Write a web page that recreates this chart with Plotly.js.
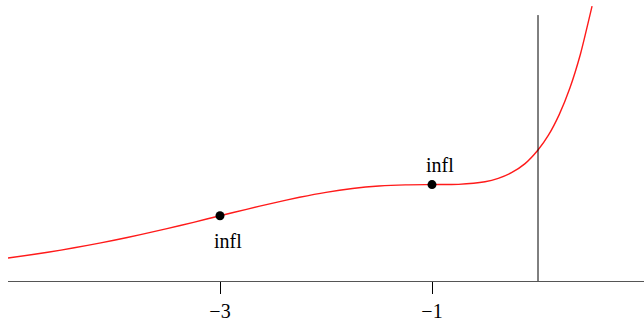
<!DOCTYPE html>
<html>
<head>
<meta charset="utf-8">
<script src="https://cdn.plot.ly/plotly-3.0.1.min.js"></script>
<style>
html,body{margin:0;padding:0;background:#fff;}
</style>
</head>
<body>
<div id="chart"></div>
<script>
// Curve values
const curveX = [-5, -4.75, -4.5, -4.25, -4, -3.75, -3.5, -3.25, -3, -2.75, -2.5, -2.25, -2, -1.75, -1.5, -1.25, -1, -0.75, -0.5, -0.375, -0.25, -0.125, 0, 0.1, 0.2, 0.3, 0.4, 0.51];
const curveY = [0.175, 0.204, 0.236, 0.272, 0.311, 0.354, 0.400, 0.448, 0.498, 0.547, 0.595, 0.639, 0.677, 0.706, 0.725, 0.734, 0.736, 0.738, 0.758, 0.784, 0.827, 0.894, 1.0, 1.115, 1.270, 1.471, 1.731, 2.098];
// Marked inflection points
const inflX = [-3, -1];
const inflY = [0.498, 0.736];
const inflLabels = ['infl', 'infl'];
const inflShift = [-25, 20];
// Axis ticks
const tickVals = [-3, -1];
const tickText = ['\u22123', '\u22121'];
// Vertical line (y-axis) top
const vLineTop = 2.03;

const traces = [
  {x: curveX, y: curveY, type: 'scatter', mode: 'lines',
   line: {color: '#ff1a1a', width: 1.4, shape: 'spline', smoothing: 0.6},
   hoverinfo: 'skip', showlegend: false},
  {x: inflX, y: inflY, type: 'scatter', mode: 'markers',
   marker: {color: '#000', size: 9},
   hoverinfo: 'skip', showlegend: false}
];

const annotations = inflX.map((x, i) => ({
  x: x, y: inflY[i], xref: 'x', yref: 'y', text: inflLabels[i],
  showarrow: false, xanchor: 'center', yanchor: 'middle',
  xshift: 8, yshift: inflShift[i],
  font: {family: 'Liberation Serif', size: 20, color: '#000'}
}));

const layout = {
  width: 644, height: 326,
  margin: {l: 8, r: 0, t: 5, b: 45},
  showlegend: false,
  xaxis: {
    range: [-5, 1], showgrid: false, zeroline: false,
    showline: true, linecolor: '#555', linewidth: 1.3,
    ticks: 'outside', ticklen: 12, tickwidth: 1, tickcolor: '#000',
    tickvals: tickVals, ticktext: tickText,
    tickfont: {family: 'Liberation Serif', size: 20, color: '#000'}
  },
  yaxis: {range: [0, 2.107], visible: false},
  shapes: [
    {type: 'line', xref: 'x', yref: 'y', x0: 0, x1: 0, y0: 0, y1: vLineTop,
     line: {color: '#000', width: 1}}
  ],
  annotations: annotations
};

Plotly.newPlot('chart', traces, layout, {displayModeBar: false});
</script>
</body>
</html>
